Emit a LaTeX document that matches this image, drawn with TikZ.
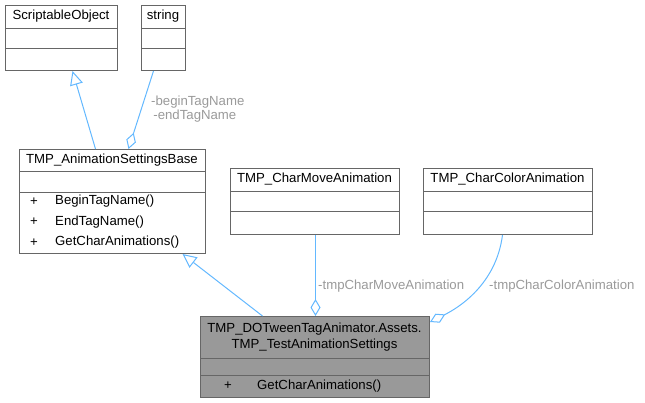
\documentclass[tikz,border=0pt]{standalone}
\usepackage{fontspec}
\setmainfont{Liberation Sans}
\usetikzlibrary{arrows.meta}
\definecolor{edgec}{HTML}{63B8FF}
\definecolor{lblc}{HTML}{9A9A9A}
\definecolor{bordc}{HTML}{666666}
\definecolor{hlc}{HTML}{999999}
\begin{document}
\begin{tikzpicture}[x=1pt,y=-1pt,
  font=\fontsize{13.2}{16}\selectfont,
  box/.style={draw=bordc, line width=1pt, fill=white, inner sep=0pt, anchor=north west},
  hlbox/.style={box, fill=hlc},
  sep/.style={draw=bordc, line width=1pt},
  txt/.style={inner sep=0pt, anchor=center},
  ltxt/.style={inner sep=0pt, anchor=west},
  lbl/.style={inner sep=0pt, anchor=west, text=lblc, align=left},
  conn/.style={draw=edgec, line width=1pt},
  inh/.style={conn, -{Triangle[fill=white, length=14pt, width=13pt]}},
  agg/.style={conn, -{Diamond[fill=white, length=17pt, width=10pt]}}]
\useasboundingbox (0,0) rectangle (645,402);

% ScriptableObject
\node[box, minimum width=112pt, minimum height=65pt] (so) at (5,5) {};
\draw[sep] (5,28) -- (117,28);
\draw[sep] (5,48) -- (117,48);
\node[txt] (so-t) at (61,16.5) {ScriptableObject};

% string
\node[box, minimum width=44pt, minimum height=65pt] (str) at (141,5) {};
\draw[sep] (141,28) -- (185,28);
\draw[sep] (141,48) -- (185,48);
\node[txt] (str-t) at (163,16.5) {string};

% TMP_AnimationSettingsBase
\node[box, minimum width=186pt, minimum height=104pt] (base) at (19,149) {};
\draw[sep] (19,171) -- (205,171);
\draw[sep] (19,192) -- (205,192);
\node[txt] (base-t) at (112,160) {TMP\_AnimationSettingsBase};
\node[ltxt] (base-p1) at (30,201.5) {+};
\node[ltxt] (base-m1) at (55,201.5) {BeginTagName()};
\node[ltxt] (base-p2) at (30,222) {+};
\node[ltxt] (base-m2) at (55,222) {EndTagName()};
\node[ltxt] (base-p3) at (30,242.5) {+};
\node[ltxt] (base-m3) at (55,242.5) {GetCharAnimations()};

% TMP_CharMoveAnimation
\node[box, minimum width=169pt, minimum height=66pt] (cm) at (230,168) {};
\draw[sep] (230,191) -- (399,191);
\draw[sep] (230,211) -- (399,211);
\node[txt] (cm-t) at (314.5,179.5) {TMP\_CharMoveAnimation};

% TMP_CharColorAnimation
\node[box, minimum width=169pt, minimum height=66pt] (cc) at (423,168) {};
\draw[sep] (423,191) -- (592,191);
\draw[sep] (423,211) -- (592,211);
\node[txt] (cc-t) at (507.5,179.5) {TMP\_CharColorAnimation};

% TMP_TestAnimationSettings
\node[hlbox, minimum width=229pt, minimum height=81pt] (bot) at (200,316) {};
\draw[sep] (200,358) -- (429,358);
\draw[sep] (200,375) -- (429,375);
\node[txt, align=center] (bot-t) at (314.5,337) {TMP\_DOTweenTagAnimator.Assets.\\TMP\_TestAnimationSettings};
\node[ltxt] (bot-p) at (224,386) {+};
\node[ltxt] (bot-m) at (257,386) {GetCharAnimations()};

% connectors
\draw[inh] ([xshift=-17pt]base.north) -- ([xshift=11pt]so.south);
\draw[agg] ([xshift=-10pt]str.south) -- ([xshift=16pt]base.north);
\draw[inh] ([xshift=-52.5pt]bot.north) -- ([xshift=70pt]base.south);
\draw[agg] ([xshift=0.5pt]cm.south) -- ([xshift=0.5pt]bot.north);
\draw[agg] ([xshift=-5.5pt]cc.south) .. controls ([xshift=-12pt,yshift=-50pt]cc.south) and ([xshift=28pt,yshift=8pt]bot.north east) .. ([yshift=-6pt]bot.north east);

% labels
\node[lbl] (l1) at (151,109) {-beginTagName\\[-1.5pt]\,-endTagName};
\node[lbl] (l2) at (318,286) {-tmpCharMoveAnimation};
\node[lbl] (l3) at (489,286) {-tmpCharColorAnimation};
\end{tikzpicture}
\end{document}
